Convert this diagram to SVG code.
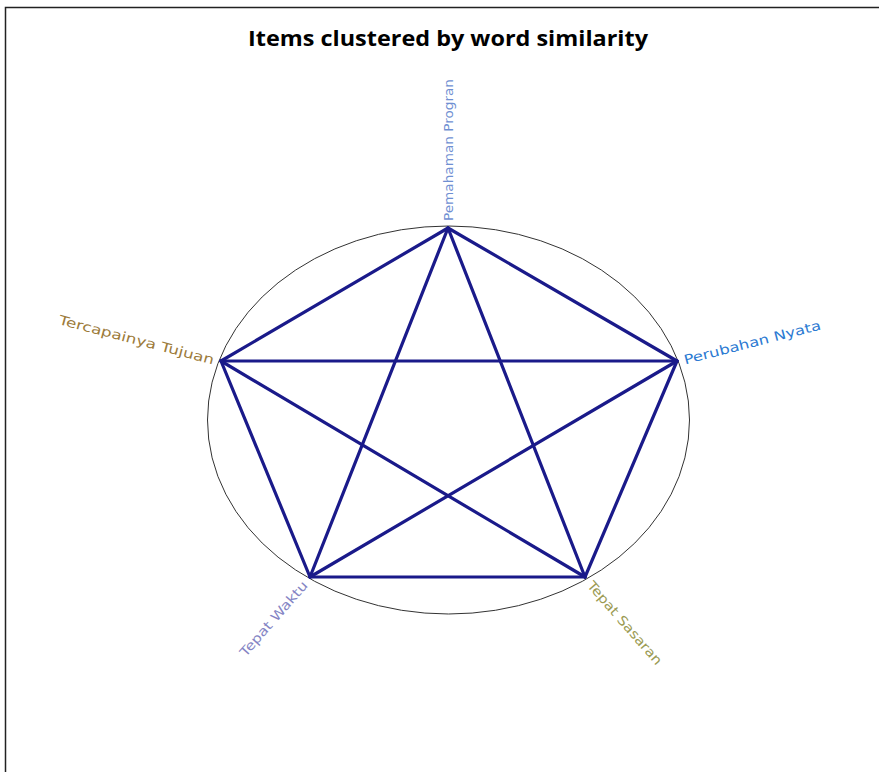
<svg xmlns="http://www.w3.org/2000/svg" width="879" height="772" viewBox="0 0 879 772">
<style>
.title{font-family:"Open Sans","DejaVu Sans",sans-serif;font-weight:bold;font-size:21px;fill:#000}
.lbl{font-family:"DejaVu Sans","Open Sans",sans-serif;font-size:13px}
.edge{stroke:#1a1a8a;stroke-width:3.2;fill:none;stroke-linecap:round}
</style>
<rect x="0" y="0" width="879" height="772" fill="#fff"/>
<path d="M5.5 772 V7.5 H879" fill="none" stroke="#222" stroke-width="1.5"/>
<text class="title" x="448" y="46" text-anchor="middle" textLength="400" lengthAdjust="spacingAndGlyphs">Items clustered by word similarity</text>
<ellipse cx="448.5" cy="420" rx="241" ry="194" fill="none" stroke="#333" stroke-width="1"/>
<g id="edges">
<line class="edge" x1="448" y1="228" x2="221" y2="361"/>
<line class="edge" x1="448" y1="228" x2="677" y2="361"/>
<line class="edge" x1="448" y1="228" x2="310" y2="577"/>
<line class="edge" x1="448" y1="228" x2="585" y2="577"/>
<line class="edge" x1="221" y1="361" x2="677" y2="361"/>
<line class="edge" x1="221" y1="361" x2="310" y2="577"/>
<line class="edge" x1="221" y1="361" x2="585" y2="577"/>
<line class="edge" x1="677" y1="361" x2="310" y2="577"/>
<line class="edge" x1="677" y1="361" x2="585" y2="577"/>
<line class="edge" x1="310" y1="577" x2="585" y2="577"/>
</g>
<g id="n-pemahaman"><text class="lbl" fill="#6f8fd2" transform="translate(448,221) rotate(-90)" dy="0.35em" textLength="142" lengthAdjust="spacingAndGlyphs">Pemahaman Progran</text></g>
<g id="n-tercapainya"><text class="lbl" fill="#9c7b3a" text-anchor="end" transform="translate(214,360) rotate(14.6)" dy="0.35em" textLength="160" lengthAdjust="spacingAndGlyphs">Tercapainya Tujuan</text></g>
<g id="n-perubahan"><text class="lbl" fill="#2c7ad2" transform="translate(684,360) rotate(-14.4)" dy="0.35em" textLength="141" lengthAdjust="spacingAndGlyphs">Perubahan Nyata</text></g>
<g id="n-waktu"><text class="lbl" fill="#8484c4" text-anchor="end" transform="translate(305,583) rotate(-48.7)" dy="0.35em" textLength="95" lengthAdjust="spacingAndGlyphs">Tepat Waktu</text></g>
<g id="n-sasaran"><text class="lbl" fill="#9a9a52" transform="translate(590,583) rotate(48.9)" dy="0.35em" textLength="106" lengthAdjust="spacingAndGlyphs">Tepat Sasaran</text></g>
</svg>
